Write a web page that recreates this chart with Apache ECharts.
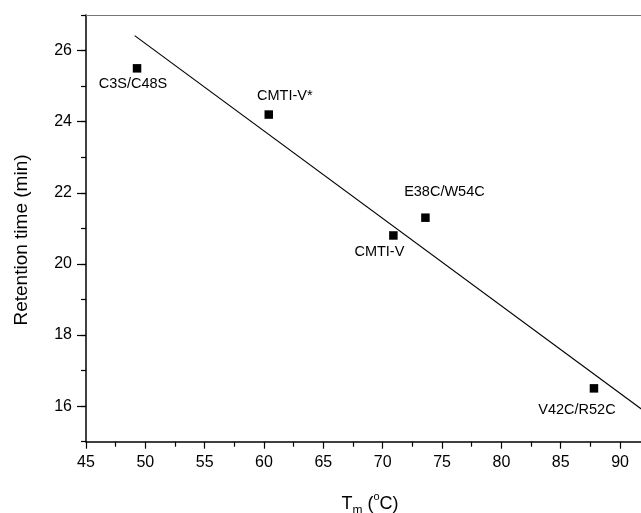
<!DOCTYPE html>
<html>
<head>
<meta charset="utf-8">
<script src="https://cdn.jsdelivr.net/npm/echarts@6/dist/echarts.min.js"></script>
<style>
html,body{margin:0;padding:0;background:#fff;}
#chart{width:641px;height:513px;}
</style>
</head>
<body>
<div id="chart"></div>
<script>
// Data
const names = ['C3S/C48S', 'CMTI-V*', 'CMTI-V', 'E38C/W54C', 'V42C/R52C'];
const tm = [49.3, 60.4, 70.9, 73.6, 87.8];
const retention = [25.5, 24.2, 20.8, 21.3, 16.5];
const fitX = [49.1, 95];
const fitY = [26.42, 15.13];
const xTicks = [45, 50, 55, 60, 65, 70, 75, 80, 85, 90, 95];
const yTicks = [16, 18, 20, 22, 24, 26];
const yTitle = 'Retention time (min)';

// label placement (styling)
const labelOffsets = [[-4, 16], [16, -19], [-14, 17], [19, -26], [-17, 22]];

const FONT = '"Liberation Sans", Arial, sans-serif';

const chart = echarts.init(document.getElementById('chart'), null, {renderer: 'canvas'});

const gridLeft = 86, gridTop = 15, gridBottom = 71.3, gridRight = -38.4;
const yMin = 15, yMax = 27;
const pxPerY = (513 - gridBottom - gridTop) / (yMax - yMin);
const majTop = gridTop + (yMax - yTicks[yTicks.length - 1]) * pxPerY;
const majBottom = gridBottom + (yTicks[0] - yMin) * pxPerY;

const pointData = tm.map((x, i) => ({
  value: [x, retention[i]],
  name: names[i],
  label: {
    show: true,
    formatter: names[i],
    position: 'inside',
    offset: labelOffsets[i],
    color: '#000',
    fontSize: 14.5,
    fontFamily: FONT
  }
}));

const option = {
  backgroundColor: '#fff',
  animation: false,
  title: {
    text: '{t|T}{s|m}{t| (}{o|o}{t|C)}',
    left: 365,
    top: 486,
    textAlign: 'center',
    textStyle: {
      fontWeight: 'normal',
      rich: {
        t: {fontSize: 18, fontFamily: FONT, fontWeight: 'normal', color: '#000', lineHeight: 26, verticalAlign: 'middle'},
        s: {fontSize: 12, fontFamily: FONT, fontWeight: 'normal', color: '#000', lineHeight: 26, verticalAlign: 'bottom'},
        o: {fontSize: 11, fontFamily: FONT, fontWeight: 'normal', color: '#000', lineHeight: 26, verticalAlign: 'top'}
      }
    }
  },
  graphic: [
    {
      type: 'text',
      x: 22, y: 240,
      rotation: Math.PI / 2,
      style: {
        text: yTitle,
        fontSize: 19,
        fontFamily: FONT,
        fill: '#000',
        align: 'center',
        verticalAlign: 'middle'
      }
    }
  ],
  grid: [
    {left: gridLeft, right: gridRight, top: gridTop, bottom: gridBottom, containLabel: false, outerBoundsMode: 'none'},
    {left: gridLeft, right: gridRight, top: majTop, bottom: majBottom, containLabel: false, outerBoundsMode: 'none'}
  ],
  xAxis: [
    {
      type: 'value', gridIndex: 0, min: xTicks[0], max: xTicks[xTicks.length - 1], interval: 5,
      axisLine: {show: true, onZero: false, lineStyle: {color: '#000', width: 1.5}},
      axisTick: {show: true, inside: false, length: 7, lineStyle: {color: '#000', width: 1.2}},
      minorTick: {show: true, splitNumber: 2, length: 5, lineStyle: {color: '#000', width: 1.2}},
      axisLabel: {show: true, margin: 13, color: '#000', fontSize: 16, fontFamily: FONT,
        formatter: v => (xTicks.indexOf(v) >= 0 ? String(v) : '')},
      splitLine: {show: false}
    },
    {
      type: 'value', gridIndex: 0, position: 'top', min: xTicks[0], max: xTicks[xTicks.length - 1],
      axisLine: {show: true, onZero: false, lineStyle: {color: '#777', width: 1.2}},
      axisTick: {show: false}, axisLabel: {show: false}, splitLine: {show: false}
    },
    {
      type: 'value', gridIndex: 1, min: xTicks[0], max: xTicks[xTicks.length - 1], show: false
    }
  ],
  yAxis: [
    {
      type: 'value', gridIndex: 0, min: yMin, max: yMax, interval: 1,
      axisLine: {show: true, onZero: false, lineStyle: {color: '#000', width: 1.5}},
      axisTick: {show: true, inside: false, length: 5, lineStyle: {color: '#000', width: 1.2}},
      axisLabel: {show: false},
      splitLine: {show: false}
    },
    {
      type: 'value', gridIndex: 1, min: yTicks[0], max: yTicks[yTicks.length - 1], interval: 2,
      axisLine: {show: false, onZero: false},
      axisTick: {show: true, inside: false, length: 9, lineStyle: {color: '#000', width: 1.2}},
      axisLabel: {show: true, margin: 14, color: '#000', fontSize: 16, fontFamily: FONT},
      splitLine: {show: false}
    }
  ],
  series: [
    {
      type: 'line',
      xAxisIndex: 0, yAxisIndex: 0,
      data: fitX.map((x, i) => [x, fitY[i]]),
      showSymbol: false,
      symbol: 'none',
      lineStyle: {color: '#000', width: 1.2},
      silent: true,
      z: 2
    },
    {
      type: 'scatter',
      xAxisIndex: 0, yAxisIndex: 0,
      symbol: 'rect',
      symbolSize: 8.5,
      itemStyle: {color: '#000', opacity: 1},
      data: pointData,
      z: 3
    }
  ]
};
chart.setOption(option);
</script>
</body>
</html>
